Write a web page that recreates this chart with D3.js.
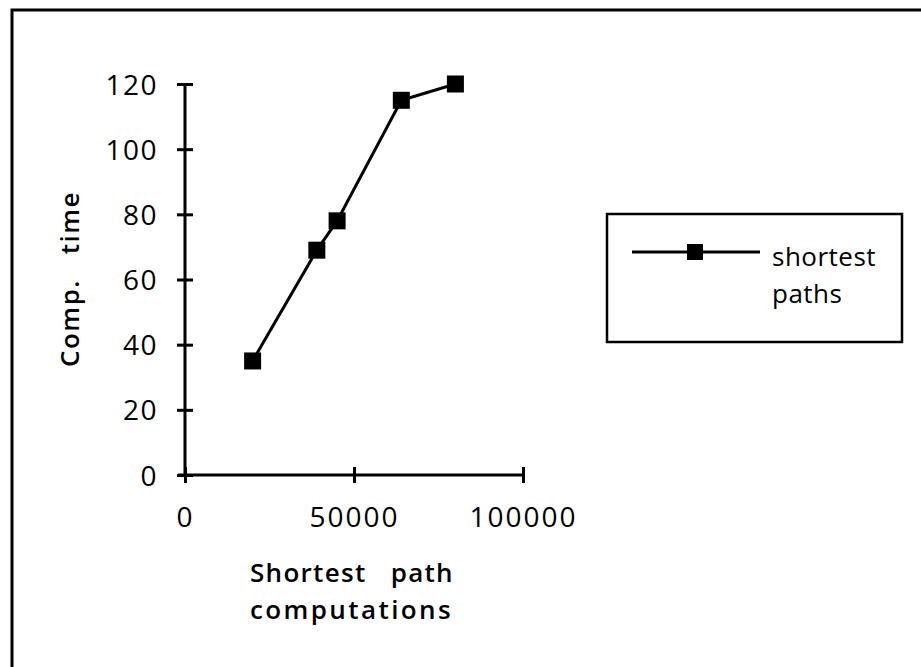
<!DOCTYPE html>
<html>
<head>
<meta charset="utf-8">
<script src="https://cdn.jsdelivr.net/npm/d3@7/dist/d3.min.js"></script>
<style>
  body { margin: 0; background: #fff; }
  svg { display: block; }
  text { font-family: "Open Sans", "DejaVu Sans", sans-serif; fill: #000; }
</style>
</head>
<body>
<svg id="chart" width="921" height="667"></svg>
<script>
// Data
const seriesName = "shortest paths";
const xValues = [20000, 39000, 45000, 64000, 80000];
const yValues = [35, 69, 78, 115, 120];
const xTicks = [0, 50000, 100000];
const yTicks = [0, 20, 40, 60, 80, 100, 120];
const xTitleLines = ["Shortest   path", "computations"];
const yTitle = "Comp.   time";

const svg = d3.select("#chart");
const W = 921, H = 667;

// frame (left + top border)
svg.append("path")
  .attr("d", `M12,${H} L12,10 L${W},10`)
  .attr("fill", "none").attr("stroke", "#000").attr("stroke-width", 3);

const x0 = 185, x1 = 523, y0 = 475, y1 = 84;
const x = d3.scaleLinear().domain([0, 100000]).range([x0, x1]);
const y = d3.scaleLinear().domain([0, 120]).range([y0, y1]);

// Y axis
const gy = svg.append("g").attr("transform", `translate(${x0},0)`)
  .call(d3.axisLeft(y).tickValues(yTicks).tickFormat(d3.format("d")).tickSize(8).tickPadding(19));
gy.select(".domain").attr("stroke-width", 3).attr("d", `M0,${y0}V${y1}`);
gy.selectAll(".tick line").attr("x1", -8).attr("x2", 8).attr("stroke-width", 3);
gy.selectAll(".tick text").style("font-size", "28px").style("letter-spacing", "1.5px").attr("dy", "0.36em");

// X axis
const gx = svg.append("g").attr("transform", `translate(0,${y0})`)
  .call(d3.axisBottom(x).tickValues(xTicks).tickFormat(d3.format("d")).tickSize(8).tickPadding(24));
gx.select(".domain").attr("stroke-width", 3).attr("d", `M${x0 - 7},0H${x1}`);
gx.selectAll(".tick line").attr("y1", -8).attr("y2", 8).attr("stroke-width", 3);
gx.selectAll(".tick text").style("font-size", "28px").style("letter-spacing", "2px");

// Axis titles
svg.append("text")
  .attr("transform", "translate(79,279) rotate(-90)")
  .attr("text-anchor", "middle")
  .style("font-size", "26px").style("font-weight", "600").style("letter-spacing", "1.5px")
  .style("white-space", "pre")
  .text(yTitle);

svg.append("g").selectAll("text").data(xTitleLines).join("text")
  .attr("x", 250).attr("y", (d, i) => 582 + i * 37)
  .style("font-size", "26px").style("font-weight", "600")
  .style("letter-spacing", (d, i) => i === 0 ? "1.3px" : "2.4px")
  .style("white-space", "pre")
  .text(d => d);

// Line + markers
const pts = xValues.map((v, i) => [v, yValues[i]]);
svg.append("path")
  .datum(pts)
  .attr("fill", "none").attr("stroke", "#000").attr("stroke-width", 3)
  .attr("d", d3.line().x(d => x(d[0])).y(d => y(d[1])));

const ms = 17;
svg.append("g").selectAll("rect").data(pts).join("rect")
  .attr("x", d => x(d[0]) - ms / 2).attr("y", d => y(d[1]) - ms / 2)
  .attr("width", ms).attr("height", ms).attr("fill", "#000");

// Legend
const lg = svg.append("g");
lg.append("rect").attr("x", 607).attr("y", 214).attr("width", 295).attr("height", 128)
  .attr("fill", "#fff").attr("stroke", "#000").attr("stroke-width", 2.5);
lg.append("line").attr("x1", 632).attr("x2", 760).attr("y1", 252).attr("y2", 252)
  .attr("stroke", "#000").attr("stroke-width", 3);
lg.append("rect").attr("x", 695 - 8).attr("y", 252 - 8).attr("width", 16).attr("height", 16).attr("fill", "#000");
const nameParts = seriesName.split(" ");
lg.selectAll("text.lbl").data(nameParts).join("text").attr("class", "lbl")
  .attr("x", 772).attr("y", (d, i) => 266 + i * 37)
  .style("font-size", "26px").style("letter-spacing", "0.5px")
  .text(d => d);
</script>
</body>
</html>
